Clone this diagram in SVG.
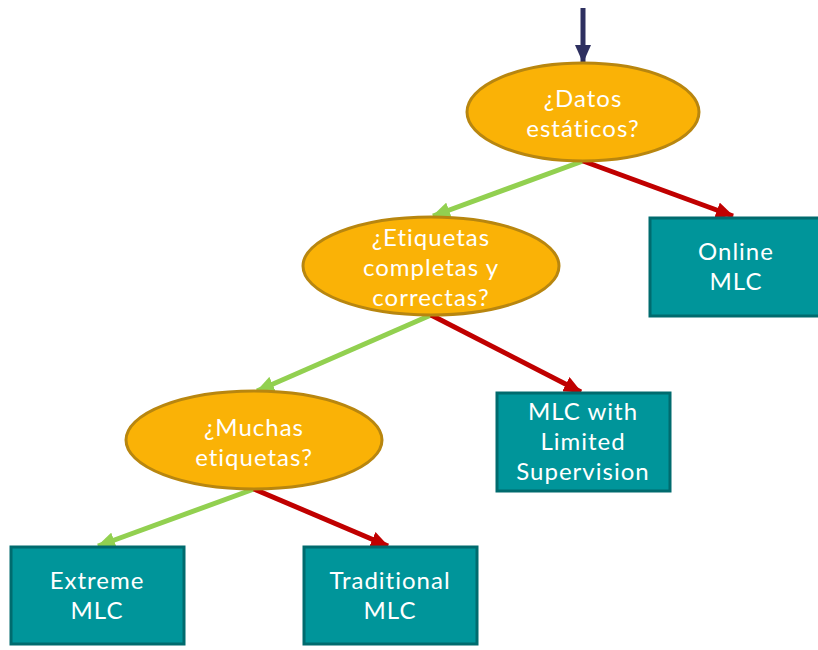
<svg xmlns="http://www.w3.org/2000/svg" width="818" height="650" viewBox="0 0 818 650">
<style>
.q{fill:#FAB206;stroke:#B8860F;stroke-width:3}
.b{fill:#00959A;stroke:#006B6E;stroke-width:3}
.t{font-family:Lato,"Open Sans","Liberation Sans",sans-serif;font-size:24px;letter-spacing:1px;fill:#fff;text-anchor:middle}
.g{stroke:#92D050;stroke-width:5;fill:none}
.r{stroke:#C00000;stroke-width:5;fill:none}
.n{stroke:#2E3060;stroke-width:5;fill:none}
</style>
<defs>
<marker id="ag" markerUnits="userSpaceOnUse" markerWidth="18" markerHeight="16" refX="17" refY="8" orient="auto"><path d="M0,0 L18,8 L0,16 Z" fill="#92D050"/></marker>
<marker id="ar" markerUnits="userSpaceOnUse" markerWidth="18" markerHeight="16" refX="17" refY="8" orient="auto"><path d="M0,0 L18,8 L0,16 Z" fill="#C00000"/></marker>
<marker id="an" markerUnits="userSpaceOnUse" markerWidth="18" markerHeight="16" refX="17" refY="8" orient="auto"><path d="M0,0 L18,8 L0,16 Z" fill="#2E3060"/></marker>
</defs>
<g id="connectors">
<line class="n" x1="583" y1="8" x2="583" y2="62" marker-end="url(#an)"/>
<line class="g" x1="583" y1="161" x2="433" y2="216" marker-end="url(#ag)"/>
<line class="r" x1="583" y1="161" x2="733" y2="216" marker-end="url(#ar)"/>
<line class="g" x1="431" y1="315" x2="257" y2="391" marker-end="url(#ag)"/>
<line class="r" x1="431" y1="315" x2="581" y2="392" marker-end="url(#ar)"/>
<line class="g" x1="254" y1="489" x2="98" y2="546" marker-end="url(#ag)"/>
<line class="r" x1="254" y1="489" x2="388" y2="546" marker-end="url(#ar)"/>
</g>
<g id="q1"><ellipse class="q" cx="583" cy="112" rx="116" ry="49"/><text class="t" x="583" y="107">¿Datos</text><text class="t" x="583" y="137">estáticos?</text></g>
<g id="q2"><ellipse class="q" cx="431" cy="266" rx="128" ry="49"/><text class="t" x="431" y="246">¿Etiquetas</text><text class="t" x="431" y="276">completas y</text><text class="t" x="431" y="306">correctas?</text></g>
<g id="q3"><ellipse class="q" cx="254" cy="440" rx="128" ry="49"/><text class="t" x="254" y="436">¿Muchas</text><text class="t" x="254" y="466">etiquetas?</text></g>
<g id="online"><rect class="b" x="650" y="218" width="172" height="98"/><text class="t" x="736" y="260">Online</text><text class="t" x="736" y="290">MLC</text></g>
<g id="limited"><rect class="b" x="497" y="393" width="173" height="98"/><text class="t" x="583" y="420">MLC with</text><text class="t" x="583" y="450">Limited</text><text class="t" x="583" y="480">Supervision</text></g>
<g id="extreme"><rect class="b" x="11" y="547" width="173" height="97"/><text class="t" x="97" y="589">Extreme</text><text class="t" x="97" y="619">MLC</text></g>
<g id="traditional"><rect class="b" x="304" y="547" width="173" height="97"/><text class="t" x="390" y="589">Traditional</text><text class="t" x="390" y="619">MLC</text></g>
</svg>
